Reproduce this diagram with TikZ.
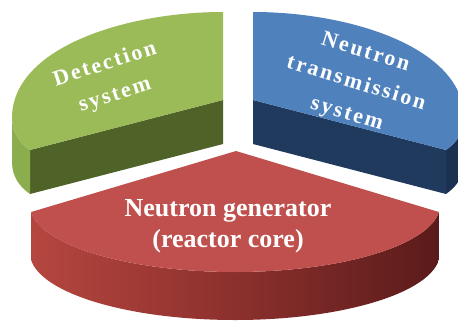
\documentclass[tikz,border=0pt]{standalone}
\usepackage{fontspec}
\setmainfont{Liberation Serif}
\usetikzlibrary{calc}
\definecolor{gtop}{HTML}{9BBB59}
\definecolor{gout}{HTML}{8CAD4E}
\definecolor{gside}{HTML}{4F6228}
\definecolor{btop}{HTML}{4F81BD}
\definecolor{bside}{HTML}{203A5E}
\definecolor{bout}{HTML}{1B3152}
\definecolor{rtop}{HTML}{C0504D}
\definecolor{rsideL}{HTML}{B5463F}
\definecolor{rsideM}{HTML}{8C302D}
\definecolor{rsideR}{HTML}{5A1B1A}
\tikzset{
  lbl/.style={text=white, align=center, inner sep=0pt},
  smallfont/.style={font={\fontsize{22}{32}\selectfont\bfseries\addfontfeature{LetterSpace=10}}},
  bigfont/.style={font={\fontsize{26}{31}\selectfont\bfseries}}
}
\begin{document}
\begin{tikzpicture}[x=1pt,y=-1pt]
\useasboundingbox (0,0) rectangle (458,324);
\clip (0,0) rectangle (458,324);
\fill[white] (0,0) rectangle (458,324);
% ---------- green segment ----------
\coordinate (ga) at (223,100);
\coordinate (gt) at (223,12);
\coordinate (gl) at (12,118);
\coordinate (gc) at (30,150);
\fill[gside] (gc) -- (ga) -- (223,144) -- (30,194) -- cycle;
\fill[gout] (gl) .. controls (12,133) and (20,143) .. (gc) -- (30,194)
  .. controls (20,187) and (12,177) .. (12,162) -- cycle;
\fill[gtop] (ga) -- (gt) .. controls (125,12) and (12,48) .. (gl)
  .. controls (12,133) and (20,143) .. (gc) -- cycle;
% ---------- blue segment ----------
\coordinate (ba) at (253,100);
\coordinate (bt) at (253,12);
\coordinate (br) at (464,118);
\coordinate (bc) at (446,150);
\fill[bside] (bc) -- (ba) -- (253,144) -- (446,194) -- cycle;
\fill[bout] (br) .. controls (464,133) and (456,143) .. (bc) -- (446,194)
  .. controls (456,187) and (464,177) .. (464,162) -- cycle;
\fill[btop] (ba) -- (bt) .. controls (351,12) and (464,48) .. (br)
  .. controls (464,133) and (456,143) .. (bc) -- cycle;
% ---------- red segment ----------
\coordinate (rc) at (235,205);
\coordinate (ra) at (236,151);
\coordinate (rl) at ($(rc)+(186:205pt and 67pt)$);
\coordinate (rr) at ($(rc)+(354:205pt and 67pt)$);
\shade[left color=rsideL, right color=rsideR, middle color=rsideM]
  (rl) arc[start angle=186, end angle=354, x radius=205pt, y radius=67pt]
  -- ++(0,48) arc[start angle=354, end angle=186, x radius=205pt, y radius=67pt] -- cycle;
\fill[rtop] (ra) -- (rl) arc[start angle=186, end angle=354, x radius=205pt, y radius=67pt] -- cycle;
% ---------- labels ----------
\node[lbl, smallfont, rotate=18] (gtext) at (110,80) {Detection\\system};
\node[lbl, smallfont, rotate=-17] (btext) at (356,84) {Neutron\\transmission\\system};
\node[lbl, bigfont] (rtext) at (228,226) {Neutron generator\\(reactor core)};
\end{tikzpicture}
\end{document}
